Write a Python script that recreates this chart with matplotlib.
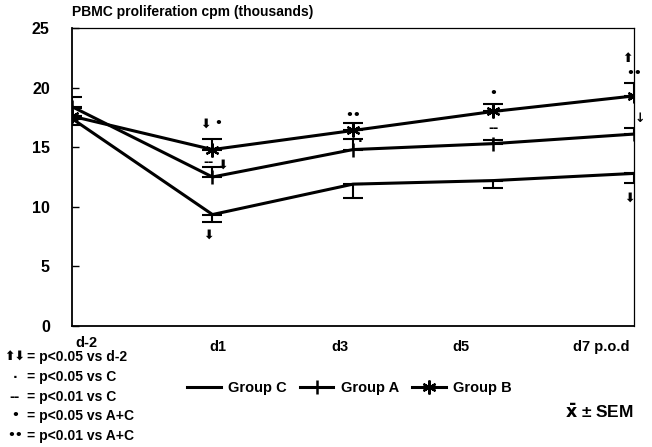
import matplotlib
matplotlib.use("Agg")
import matplotlib.pyplot as plt

plt.rcParams["font.family"] = ["Liberation Sans", "DejaVu Sans"]
plt.rcParams["font.weight"] = "bold"

# data (thousands cpm)
days = ["d-2", "d1", "d3", "d5", "d7 p.o.d"]
group_c = [17.4, 9.35, 11.9, 12.2, 12.8]
group_a = [18.4, 12.5, 14.8, 15.3, 16.1]
group_b = [17.6, 14.8, 16.4, 18.0, 19.3]
sem_c = [0.5, 0.6, 1.2, 0.6, 0.8]
sem_a = [0.8, 0.8, 0.9, 0.3, 0.5]
sem_b = [0.7, 0.9, 0.6, 0.6, 1.1]

# significance marks: (day index, value, symbol)
marks = [
    (0.95, 16.9, "⬇"), (1.04, 17.0, "•"),
    (0.97, 13.7, "--"), (1.07, 13.5, "⬇"),
    (0.97, 7.6, "⬇"),
    (2.0, 17.7, "••"), (2.05, 15.5, "·"),
    (3.0, 19.5, "•"), (3.0, 16.6, "--"),
    (3.95, 22.4, "⬆"), (4.0, 21.2, "••"),
    (4.04, 17.4, "↓"), (3.97, 10.7, "⬇"),
]

x = list(range(len(days)))

fig = plt.figure(figsize=(6.52, 4.47), dpi=100)
ax = fig.add_axes([0.1104, 0.2707, 0.862, 0.6667])

ax.plot(x, group_c, color="black", lw=2.2, label="Group C")
ax.errorbar(x, group_c, yerr=[sem_c, [0] * 5], fmt="none", ecolor="black",
            elinewidth=1.5, capsize=7, capthick=1.5)
ax.plot(x, group_a, color="black", lw=2.2, marker="|", ms=10, mew=1.8,
        label="Group A")
ax.errorbar(x, group_a, yerr=[[0] * 5, sem_a], fmt="none", ecolor="black",
            elinewidth=1.5, capsize=7, capthick=1.5)
ax.plot(x, group_b, color="black", lw=2.2, marker=(6, 2, 0), ms=10, mew=1.6,
        label="Group B")
ax.errorbar(x, group_b, yerr=[[0] * 5, sem_b], fmt="none", ecolor="black",
            elinewidth=1.5, capsize=7, capthick=1.5)

for mx, my, s in marks:
    ax.text(mx, my, s, ha="center", va="center", fontsize=9,
            fontweight="bold", family=["DejaVu Sans"], clip_on=False)

ax.set_xlim(0, 4)
ax.set_ylim(0, 25)
ax.set_yticks([0, 5, 10, 15, 20, 25])
ax.tick_params(axis="y", direction="in", length=5, width=1, pad=16,
               labelsize=11.5)
ax.set_xticks([])
for side in ["top", "right"]:
    ax.spines[side].set_linewidth(0.9)
ax.spines["left"].set_linewidth(1.3)
ax.spines["bottom"].set_linewidth(1.3)

# day labels sit a bit off their points, as in the original
label_x = [0.1, 1.04, 1.91, 2.77, 3.77]
label_y = [-0.058, -0.07, -0.07, -0.07, -0.07]
for lx, ly, d in zip(label_x, label_y, days):
    ax.text(lx, ly, d, transform=ax.get_xaxis_transform(), ha="center",
            va="center", fontsize=10.5, fontweight="bold")

ax.text(0, 1.054, "PBMC proliferation cpm (thousands)", transform=ax.transAxes,
        ha="left", va="center", fontsize=10, fontweight="bold")

fig.legend(loc="center left", bbox_to_anchor=(174 / 652, 1 - 388 / 447),
           ncol=3, frameon=False, handlelength=2.3, columnspacing=0.9,
           handletextpad=0.5, prop={"size": 10.5, "weight": "bold"})

key = [
    ("⬆⬇", "p<0.05 vs d-2"),
    ("·", "p<0.05 vs C"),
    ("--", "p<0.01 vs C"),
    ("•", "p<0.05 vs A+C"),
    ("••", "p<0.01 vs A+C"),
]
key_y = [357, 377, 397, 416, 436]
for (sym, txt), ky in zip(key, key_y):
    fig.text(15 / 652, 1 - ky / 447, sym, ha="center", va="center",
             fontsize=9, fontweight="bold", family=["DejaVu Sans"])
    fig.text(27 / 652, 1 - ky / 447, "= " + txt, ha="left", va="center",
             fontsize=10, fontweight="bold")

fig.text(565 / 652, 1 - 412 / 447, r"$\bar{\mathbf{x}}$ ± SEM", ha="left",
         va="center", fontsize=12.5, fontweight="bold")

fig.savefig("out.png", dpi=100)
